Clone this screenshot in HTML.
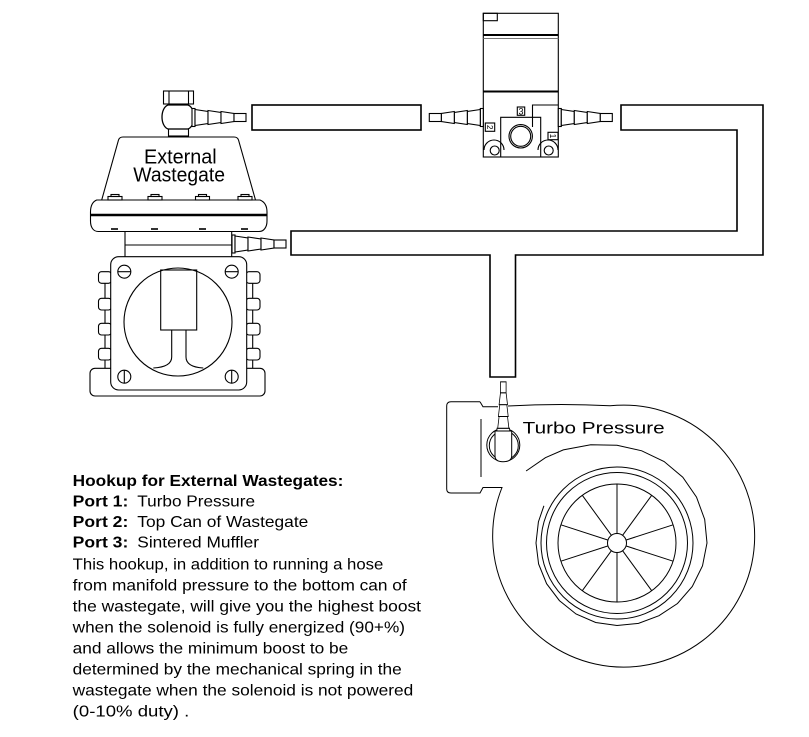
<!DOCTYPE html>
<html><head><meta charset="utf-8"><style>
html,body{margin:0;padding:0;background:#fff;}
svg{display:block;}
text{font-family:"Liberation Sans",Arial,sans-serif;fill:#000;}
</style></head><body>
<svg width="809" height="737" viewBox="0 0 809 737" xmlns="http://www.w3.org/2000/svg">
<rect width="809" height="737" fill="#fff"/>
<defs>
<g id="barb" fill="#fff" stroke="#000" stroke-width="1.1">
<rect x="0" y="-9" width="3" height="18"/>
<polygon points="3,-8 16,-6 16,6 3,8"/>
<polygon points="16,-7 29,-5 29,5 16,7"/>
<polygon points="29,-6 42,-4 42,4 29,6"/>
<rect x="42" y="-4" width="12" height="8"/>
</g>
</defs>

<g fill="none" stroke="#000" stroke-width="1.6">
<rect x="252" y="105" width="169" height="25"/>
<path d="M621,105 H763 V255 H515.5 V377 H490 V255 H291 V231 H737 V130 H621 Z"/>
</g>

<!-- Wastegate -->
<g fill="none" stroke="#000" stroke-width="1.1">
<rect x="163.5" y="91" width="30" height="13"/>
<line x1="169" y1="91" x2="169" y2="104"/>
<line x1="188.5" y1="91" x2="188.5" y2="104"/>
<path d="M168,105 H188 C196,108 196,126 188,129 H168 C160,126 160,108 168,105 Z" stroke-width="1.3"/>
<rect x="168.5" y="129" width="20" height="7"/>
<path d="M101.7,200 L118.5,140 Q119.5,137 123,137 H234 Q237.5,137 238.5,140 L255.5,200"/>
<path d="M96.7,200 H260 C265,202 267,206 267,212 V221 C267,227 264,231.5 259,231.5 H98.3 C93,231.5 90.5,227 90.5,221 V212 C90.5,206 92,202 96.7,200 Z"/>
<line x1="90.5" y1="215" x2="267" y2="215" stroke-width="2.4"/>
<g>
<rect x="108" y="196.5" width="14" height="3.5"/><rect x="111" y="194.5" width="8" height="2"/>
<rect x="148" y="196.5" width="14" height="3.5"/><rect x="151" y="194.5" width="8" height="2"/>
<rect x="195.5" y="196.5" width="14" height="3.5"/><rect x="198.5" y="194.5" width="8" height="2"/>
<rect x="238" y="196.5" width="14" height="3.5"/><rect x="241" y="194.5" width="8" height="2"/>
</g>
<g stroke-width="1.6">
<line x1="111" y1="229" x2="118" y2="229"/>
<line x1="151" y1="229" x2="158" y2="229"/>
<line x1="199" y1="229" x2="206" y2="229"/>
<line x1="241" y1="229" x2="248" y2="229"/>
</g>
<line x1="125" y1="231.5" x2="125" y2="257"/>
<line x1="231.7" y1="231.5" x2="231.7" y2="257"/>
<line x1="125" y1="245" x2="231.7" y2="245"/>

<rect x="90" y="368.3" width="175" height="27.7" rx="5"/>
<line x1="105" y1="283.3" x2="105" y2="298.3"/><line x1="105" y1="310" x2="105" y2="323.3"/>
<line x1="105" y1="335" x2="105" y2="348.3"/><line x1="105" y1="360" x2="105" y2="368.3"/>
<line x1="252.7" y1="283.3" x2="252.7" y2="298.3"/><line x1="252.7" y1="310" x2="252.7" y2="323.3"/>
<line x1="252.7" y1="335" x2="252.7" y2="348.3"/><line x1="252.7" y1="360" x2="252.7" y2="368.3"/>
<rect x="98.5" y="271.7" width="13" height="11.6" rx="3"/>
<rect x="98.5" y="298.3" width="13" height="11.7" rx="3"/>
<rect x="98.5" y="323.3" width="13" height="11.7" rx="3"/>
<rect x="98.5" y="348.3" width="13" height="11.7" rx="3"/>
<rect x="246" y="271.7" width="14" height="11.6" rx="3"/>
<rect x="246" y="298.3" width="14" height="11.7" rx="3"/>
<rect x="246" y="323.3" width="14" height="11.7" rx="3"/>
<rect x="246" y="348.3" width="14" height="11.7" rx="3"/>
<rect x="110.7" y="256.7" width="136" height="133.3" rx="8" fill="#fff"/>
<circle cx="124.3" cy="271.7" r="6.5"/><line x1="117.8" y1="271.7" x2="130.8" y2="271.7"/>
<circle cx="231.7" cy="271.7" r="6.5"/><line x1="225.2" y1="271.7" x2="238.2" y2="271.7"/>
<circle cx="124.3" cy="376.7" r="6.5"/><line x1="124.3" y1="370.2" x2="124.3" y2="383.2"/>
<circle cx="231.7" cy="376.7" r="6.5"/><line x1="231.7" y1="370.2" x2="231.7" y2="383.2"/>
<circle cx="178" cy="322" r="54"/>
<rect x="160.7" y="270" width="36" height="60"/>
<path d="M171.7,330 V357 Q171.7,367 153.3,368"/>
<path d="M186,330 V357 Q186,367 203.3,368"/>
</g>
<use href="#barb" transform="translate(192,117.5)"/>
<use href="#barb" transform="translate(232,244)"/>
<text x="144" y="163.3" font-size="20" textLength="72.7" lengthAdjust="spacingAndGlyphs">External</text>
<text x="133.3" y="181.7" font-size="20" textLength="91.7" lengthAdjust="spacingAndGlyphs">Wastegate</text>

<!-- Solenoid -->
<g fill="none" stroke="#000" stroke-width="1.1">
<rect x="483.3" y="13.3" width="75" height="143.7"/>
<rect x="483.3" y="13.3" width="14" height="7.4"/>
<line x1="483.3" y1="35" x2="558.3" y2="35" stroke-width="2"/>
<line x1="483.3" y1="38.5" x2="558.3" y2="38.5" stroke="#777"/>
<line x1="483.3" y1="91.5" x2="558.3" y2="91.5" stroke-width="2"/>
<path d="M532.5,127 V105 H558.3"/>
<path d="M500.7,157 V117.3 H540.7 V157"/>
<circle cx="520.7" cy="136.3" r="11.7"/>
<circle cx="520.7" cy="136.3" r="10"/>
<rect x="517.3" y="107" width="7.4" height="8.3"/>
<rect x="485.3" y="123" width="9.4" height="8.3"/>
<rect x="548" y="132.3" width="10" height="7.4"/>
<circle cx="494.7" cy="150.5" r="4.5"/>
<circle cx="548.7" cy="150.5" r="4.5"/>
<path d="M484,150 A10,10 0 0 1 504,150"/>
<path d="M538,150 A10,10 0 0 1 558,150"/>
</g>
<text x="521" y="114.3" font-size="9" text-anchor="middle">3</text>
<text transform="translate(490,127.2) rotate(90)" y="3" font-size="8" text-anchor="middle">2</text>
<text transform="translate(553,136) rotate(90)" y="3" font-size="8" text-anchor="middle">1</text>
<use href="#barb" transform="translate(483.3,117.5) scale(-1,1)"/>
<use href="#barb" transform="translate(558.3,117.5)"/>

<!-- Turbo -->
<g fill="none" stroke="#000" stroke-width="1">
<path d="M480,401.7 H451 Q446.7,401.7 446.7,406 V489 Q446.7,493 451,493 H480 L483,487.5 H502 A131,131 0 1 0 610,405.8 Q560,403 508,406"/>
<path d="M480,401.7 L483,406.7 H498"/>
<line x1="481" y1="419" x2="481" y2="477"/>
<polyline points="526.1,471 545.4,457.7 563.3,449.9 590.7,444.8 617,445.2 641.7,450.8 664.1,461.5 682.8,477.2 696.5,497.1 704.7,519.5 707,543 702.5,565.9 692.3,586.5 677.5,603.5 659,615.7 638.5,623.4 617,625.5 595.7,622.5 576,614 559.4,600.6 546.6,583.7 538.6,564 536,543 538.4,521.9 543.9,505.8"/>
<circle cx="617" cy="543" r="76"/>
<circle cx="617" cy="543" r="70.5"/>
<circle cx="617" cy="543" r="59"/>
<line x1="673.1" y1="561.2" x2="560.9" y2="524.8"/>
<line x1="651.7" y1="590.7" x2="582.3" y2="495.3"/>
<line x1="617" y1="602" x2="617" y2="484"/>
<line x1="582.3" y1="590.7" x2="651.7" y2="495.3"/>
<line x1="560.9" y1="561.2" x2="673.1" y2="524.8"/>
<circle cx="617" cy="543" r="9.5" fill="#fff"/>
<circle cx="503.3" cy="445" r="16.5"/>
<circle cx="503.8" cy="445.5" r="14.5"/>
<path d="M495,431 V456 Q495,461.7 503,461.7 Q511.7,461.7 511.7,456 V431 Z" fill="#fff"/>
</g>
<use href="#barb" transform="translate(503.3,431) rotate(-90) scale(0.91,0.7)"/>
<text x="522.7" y="433.3" font-size="17" textLength="142" lengthAdjust="spacingAndGlyphs">Turbo Pressure</text>

<!-- Text block -->
<g font-size="16">
<text x="72.7" y="486" font-weight="bold" textLength="270.7" lengthAdjust="spacingAndGlyphs">Hookup for External Wastegates:</text>
<text x="72.7" y="506.7" font-weight="bold" textLength="55.6" lengthAdjust="spacingAndGlyphs">Port 1:</text>
<text x="137.3" y="506.7" textLength="117.7" lengthAdjust="spacingAndGlyphs">Turbo Pressure</text>
<text x="72.7" y="527" font-weight="bold" textLength="55.6" lengthAdjust="spacingAndGlyphs">Port 2:</text>
<text x="137.3" y="527" textLength="171" lengthAdjust="spacingAndGlyphs">Top Can of Wastegate</text>
<text x="72.7" y="547.5" font-weight="bold" textLength="55.6" lengthAdjust="spacingAndGlyphs">Port 3:</text>
<text x="137.3" y="547.5" textLength="121.7" lengthAdjust="spacingAndGlyphs">Sintered Muffler</text>
<text x="72.7" y="569.5" textLength="310.6" lengthAdjust="spacingAndGlyphs">This hookup, in addition to running a hose</text>
<text x="72.7" y="590.5" textLength="334" lengthAdjust="spacingAndGlyphs">from manifold pressure to the bottom can of</text>
<text x="72.7" y="611.5" textLength="348.3" lengthAdjust="spacingAndGlyphs">the wastegate, will give you the highest boost</text>
<text x="72.7" y="632.5" textLength="332.3" lengthAdjust="spacingAndGlyphs">when the solenoid is fully energized (90+%)</text>
<text x="72.7" y="653.5" textLength="275.6" lengthAdjust="spacingAndGlyphs">and allows the minimum boost to be</text>
<text x="72.7" y="674.5" textLength="329" lengthAdjust="spacingAndGlyphs">determined by the mechanical spring in the</text>
<text x="72.7" y="695.5" textLength="340.6" lengthAdjust="spacingAndGlyphs">wastegate when the solenoid is not powered</text>
<text x="72.7" y="716.5" textLength="116.6" lengthAdjust="spacingAndGlyphs">(0-10% duty) .</text>
</g>
</svg>
</body></html>
